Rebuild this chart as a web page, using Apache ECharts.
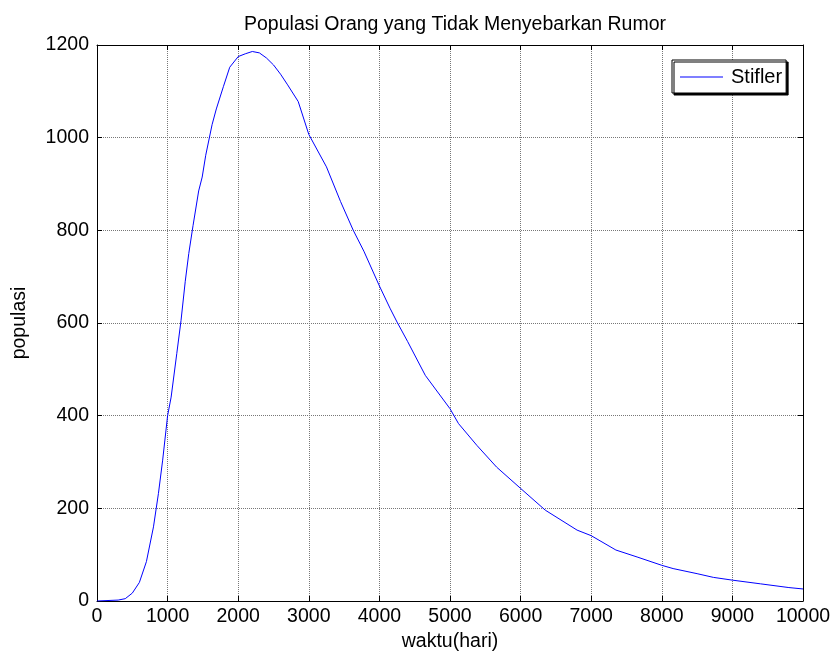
<!DOCTYPE html>
<html>
<head>
<meta charset="utf-8">
<script src="https://cdn.jsdelivr.net/npm/echarts@6/dist/echarts.min.js"></script>
<style>html,body{margin:0;padding:0;background:#fff}#c{width:834px;height:661px}</style>
</head>
<body>
<div id="c"></div>
<script>
var waktu = [0, 300, 400, 500, 600, 700, 800, 870, 930, 1000, 1050, 1130, 1190, 1250, 1300, 1360, 1440, 1490, 1540, 1630, 1690, 1790, 1880, 2000, 2100, 2200, 2300, 2400, 2500, 2600, 2700, 2850, 3000, 3250, 3450, 3630, 3780, 4000, 4150, 4250, 4400, 4650, 5000, 5120, 5380, 5660, 6000, 6350, 6800, 7000, 7350, 7650, 8000, 8160, 8500, 8730, 9000, 9400, 9800, 10000];
var stifler = [0, 2, 5, 17, 40, 85, 160, 232, 304, 400, 440, 534, 605, 690, 750, 810, 885, 915, 962, 1028, 1062, 1110, 1152, 1175, 1181, 1186, 1183, 1172, 1157, 1137, 1114, 1078, 1007, 937, 862, 800, 755, 680, 632, 602, 560, 487, 415, 383, 336, 289, 243, 196, 153, 141, 110, 95, 77, 70, 59, 51, 45, 37, 29, 26];
var xTicks = [0, 1000, 2000, 3000, 4000, 5000, 6000, 7000, 8000, 9000, 10000];
var yTicks = [0, 200, 400, 600, 800, 1000, 1200];

var font = 'Liberation Sans, Arial, sans-serif';
var fs = 19.5;
var chart = echarts.init(document.getElementById('c'));
var pts = waktu.map(function (x, i) { return [x, stifler[i]]; });
var grid = { left: 97, right: 31, top: 45, bottom: 60 };
function axisBase(pos, isX, show) {
  return {
    type: 'value', position: pos,
    min: isX ? xTicks[0] : yTicks[0],
    max: isX ? xTicks[xTicks.length - 1] : yTicks[yTicks.length - 1],
    interval: isX ? 1000 : 200,
    axisLine: { show: true, onZero: false, lineStyle: { color: '#000', width: 1 } },
    axisTick: { show: true, inside: true, length: 5, lineStyle: { color: '#000' } },
    axisLabel: { show: show, color: '#000', fontSize: fs, fontFamily: font, margin: isX ? 6 : 8,
      formatter: function (v) { return String(v); } },
    splitLine: { show: show, lineStyle: { color: '#777', type: [1, 1], width: 1 } }
  };
}
var xb = axisBase('bottom', true, true);
xb.name = 'waktu(hari)'; xb.nameLocation = 'middle'; xb.nameGap = 28;
xb.nameTextStyle = { color: '#000', fontSize: fs, fontFamily: font };
var xt = axisBase('top', true, false);
var yl = axisBase('left', false, true);
yl.name = 'populasi'; yl.nameLocation = 'middle'; yl.nameGap = 67;
yl.nameTextStyle = { color: '#000', fontSize: fs, fontFamily: font };
var yr = axisBase('right', false, false);

chart.setOption({
  animation: false,
  backgroundColor: '#fff',
  title: {
    text: 'Populasi Orang yang Tidak Menyebarkan Rumor',
    left: 450, top: 10, textAlign: 'center',
    textStyle: { color: '#000', fontSize: fs, fontWeight: 'normal', fontFamily: font }
  },
  legend: {
    left: 672, top: 60,
    data: [{ name: 'Stifler', icon: 'rect' }],
    itemWidth: 43, itemHeight: 1, itemGap: 5,
    padding: [7, 4, 6, 8],
    backgroundColor: '#fff', borderColor: '#000', borderWidth: 1,
    shadowColor: '#000', shadowOffsetX: 2, shadowOffsetY: 2, shadowBlur: 0,
    textStyle: { color: '#000', fontSize: 20, fontFamily: font, padding: [0, 0, 0, 3] }
  },
  grid: grid,
  xAxis: [xb, xt],
  yAxis: [yl, yr],
  series: [{
    name: 'Stifler', type: 'line', data: pts, symbol: 'none',
    xAxisIndex: 0, yAxisIndex: 0,
    lineStyle: { color: '#0000ff', width: 1 }, itemStyle: { color: '#0000ff' }
  }]
});
</script>
</body>
</html>
